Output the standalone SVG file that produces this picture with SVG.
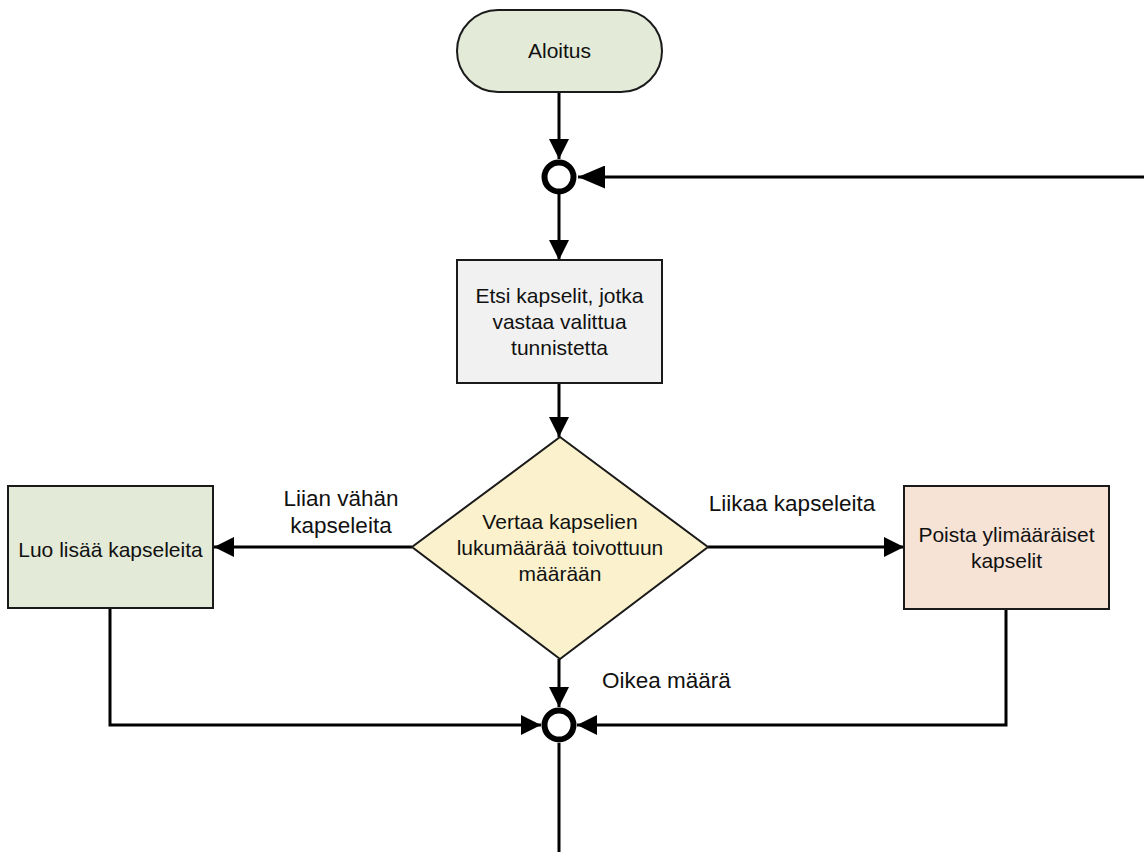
<svg xmlns="http://www.w3.org/2000/svg" width="1146" height="852" viewBox="0 0 1146 852">
  <style>
    .node { stroke: #1a1a1a; stroke-width: 2; }
    .green { fill: #e3ebd8; }
    .grey { fill: #f1f1f1; }
    .yellow { fill: #fcf1cd; }
    .peach { fill: #f6e3d6; }
    .txt { font-family: "Liberation Sans", Arial, sans-serif; font-size: 21px; fill: #111; text-anchor: middle; }
    .lbl { font-family: "Liberation Sans", Arial, sans-serif; font-size: 22.5px; fill: #111; }
    .edge { fill: none; stroke: #000; stroke-width: 3; }
    .junction { fill: #fff; stroke: #000; stroke-width: 6; }
  </style>
  <defs>
    <marker id="arrow" markerUnits="userSpaceOnUse" viewBox="0 0 20 20" refX="20" refY="10" markerWidth="20" markerHeight="20" orient="auto">
      <path d="M0,0 L20,10 L0,20 z" fill="#000"/>
    </marker>
    <marker id="arrow-lg" markerUnits="userSpaceOnUse" viewBox="0 0 27 23" refX="27" refY="11.5" markerWidth="27" markerHeight="23" orient="auto">
      <path d="M0,0 L27,11.5 L0,23 z" fill="#000"/>
    </marker>
  </defs>

  <!-- connectors -->
  <g id="connectors">
    <path class="edge" d="M559,92 V159" marker-end="url(#arrow)"/>
    <path class="edge" d="M1144,177 H578" marker-end="url(#arrow-lg)"/>
    <path class="edge" d="M559,194 V260" marker-end="url(#arrow)"/>
    <path class="edge" d="M559,383 V437" marker-end="url(#arrow)"/>
    <path class="edge" d="M412,547 H214" marker-end="url(#arrow)"/>
    <path class="edge" d="M708,547 H904" marker-end="url(#arrow)"/>
    <path class="edge" d="M559,659 V707" marker-end="url(#arrow)"/>
    <path class="edge" d="M110,608 V725 H541" marker-end="url(#arrow)"/>
    <path class="edge" d="M1006,609 V725 H577" marker-end="url(#arrow)"/>
    <path class="edge" d="M559,743 V852"/>
    <text class="lbl" x="341" y="506" text-anchor="middle">Liian vähän</text>
    <text class="lbl" x="341" y="533" text-anchor="middle">kapseleita</text>
    <text class="lbl" x="792" y="511" text-anchor="middle">Liikaa kapseleita</text>
    <text class="lbl" x="602" y="688">Oikea määrä</text>
  </g>

  <g id="start">
    <rect class="node green" x="457" y="10" width="205" height="82" rx="41" ry="41"/>
    <text class="txt" x="559.5" y="58">Aloitus</text>
  </g>

  <g id="merge-top">
    <circle class="junction" cx="559" cy="177" r="14.5"/>
  </g>

  <g id="find">
    <rect class="node grey" x="457" y="260" width="205" height="123"/>
    <text class="txt" x="559.5" y="303">Etsi kapselit, jotka</text>
    <text class="txt" x="559.5" y="329">vastaa valittua</text>
    <text class="txt" x="559.5" y="355">tunnistetta</text>
  </g>

  <g id="compare">
    <polygon class="node yellow" points="560,437 708,547 560,659 412,547"/>
    <text class="txt" x="560" y="529">Vertaa kapselien</text>
    <text class="txt" x="560" y="555">lukumäärää toivottuun</text>
    <text class="txt" x="560" y="581">määrään</text>
  </g>

  <g id="create">
    <rect class="node green" x="8" y="486" width="205" height="122"/>
    <text class="txt" x="110.5" y="557">Luo lisää kapseleita</text>
  </g>

  <g id="remove">
    <rect class="node peach" x="904" y="486" width="205" height="123"/>
    <text class="txt" x="1006.5" y="542">Poista ylimääräiset</text>
    <text class="txt" x="1006.5" y="568">kapselit</text>
  </g>

  <g id="merge-bottom">
    <circle class="junction" cx="559" cy="725" r="14.5"/>
  </g>
</svg>
